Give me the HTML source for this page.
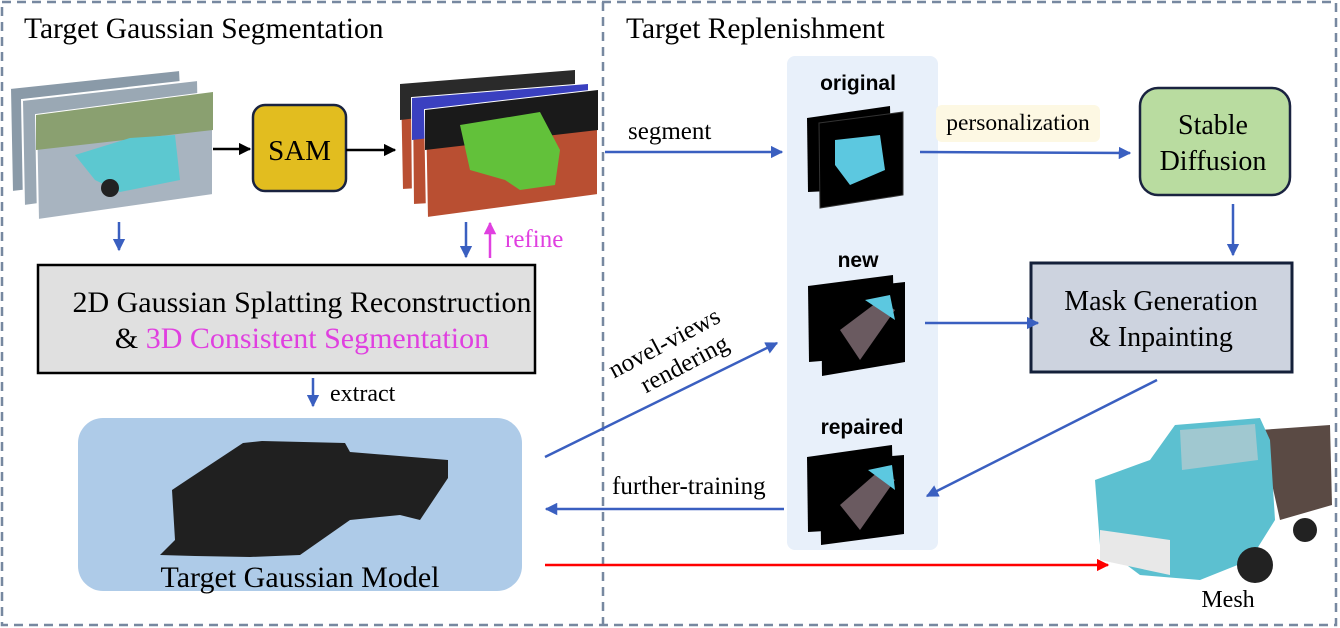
<!DOCTYPE html>
<html><head><meta charset="utf-8"><style>
html,body{margin:0;padding:0;background:#fff}
svg{display:block}
.serif{font-family:"Liberation Serif","Times New Roman",serif}
.sans{font-family:"Liberation Sans",sans-serif;font-weight:bold}
</style></head><body>
<svg width="1340" height="628" viewBox="0 0 1340 628" xmlns="http://www.w3.org/2000/svg">
<defs>
<marker id="ab" viewBox="0 0 10 10" refX="9" refY="5" markerWidth="5" markerHeight="5" orient="auto"><path d="M0,0L10,5L0,10z" fill="#3a5fc0"/></marker>
<marker id="ak" viewBox="0 0 10 10" refX="9" refY="5" markerWidth="5" markerHeight="5" orient="auto"><path d="M0,0L10,5L0,10z" fill="#000"/></marker>
<marker id="am" viewBox="0 0 10 10" refX="9" refY="5" markerWidth="5" markerHeight="5" orient="auto"><path d="M0,0L10,5L0,10z" fill="#e040e0"/></marker>
<marker id="ar" viewBox="0 0 10 10" refX="9" refY="5" markerWidth="5" markerHeight="5" orient="auto"><path d="M0,0L10,5L0,10z" fill="#f00"/></marker>
</defs>
<rect x="2" y="2" width="1334" height="623" fill="none" stroke="#7788a0" stroke-width="2.5" stroke-dasharray="9,6"/>
<line x1="603" y1="2" x2="603" y2="626" stroke="#7788a0" stroke-width="2.5" stroke-dasharray="9,6"/>
<text class="serif" x="24" y="38" font-size="29.5">Target Gaussian Segmentation</text>
<text class="serif" x="626" y="38" font-size="29.5">Target Replenishment</text>

<g>
<polygon points="10,88 180,70 185,172 12,192" fill="#8a9aa8" stroke="#fff" stroke-width="2"/>
<polygon points="22,100 198,80 200,182 24,206" fill="#9aa8b4" stroke="#fff" stroke-width="2"/>
<polygon points="36,115 213,92 213,195 38,220" fill="#a8b4c0" stroke="#fff" stroke-width="2"/>
<polygon points="36,115 213,92 213,130 36,150" fill="#8aa070"/>
<polygon points="75,155 130,138 175,135 180,180 120,192 95,180" fill="#5cc8d0"/>
<circle cx="110" cy="188" r="9" fill="#222"/>
</g>
<rect x="253" y="105" width="93" height="86" rx="12" fill="#e2bd1f" stroke="#1a2340" stroke-width="2.5"/>
<text class="serif" x="299.5" y="160" font-size="29" text-anchor="middle">SAM</text>
<line x1="213" y1="149" x2="250" y2="149" stroke="#000" stroke-width="2.5" marker-end="url(#ak)"/>
<line x1="346" y1="150" x2="395" y2="150" stroke="#000" stroke-width="2.5" marker-end="url(#ak)"/>

<g>
<polygon points="400,84 575,70 578,180 402,190" fill="#b94f32" stroke="#fff" stroke-width="2"/>
<polygon points="400,84 575,70 575,100 400,120" fill="#2a2a2a"/>
<polygon points="412,98 588,84 590,195 413,205" fill="#b94f32" stroke="#fff" stroke-width="2"/>
<polygon points="412,98 588,84 588,120 412,140" fill="#3a40c0"/>
<polygon points="425,110 598,90 598,195 427,218" fill="#b94f32" stroke="#fff" stroke-width="2"/>
<polygon points="425,110 598,90 598,130 425,150" fill="#1a1a1a"/>
<path d="M460,125 L540,112 L560,150 L555,185 L520,190 L505,180 L470,170 Z" fill="#62c13a"/>
</g>
<line x1="119" y1="222" x2="119" y2="250" stroke="#3a5fc0" stroke-width="2.5" marker-end="url(#ab)"/>
<line x1="466" y1="222" x2="466" y2="257" stroke="#3a5fc0" stroke-width="2.5" marker-end="url(#ab)"/>
<line x1="490" y1="258" x2="490" y2="223" stroke="#e040e0" stroke-width="2.5" marker-end="url(#am)"/>
<text class="serif" x="505" y="247" font-size="25" fill="#e040e0">refine</text>

<rect x="38" y="265" width="497" height="108" fill="#e0e0e0" stroke="#000" stroke-width="2.5"/>
<text class="serif" x="302" y="312" font-size="30" text-anchor="middle">2D Gaussian Splatting Reconstruction</text>
<text class="serif" x="302" y="348" font-size="30" text-anchor="middle">&amp; <tspan fill="#e040e0">3D Consistent Segmentation</tspan></text>
<line x1="313" y1="378" x2="313" y2="406" stroke="#3a5fc0" stroke-width="2.5" marker-end="url(#ab)"/>
<text class="serif" x="330" y="401" font-size="24">extract</text>

<rect x="78" y="418" width="444" height="173" rx="25" fill="#aecbe8"/>
<path d="M172,490 L190,478 L243,443 L262,441 L345,443 L350,452 L448,460 L448,478 L420,520 L400,515 L350,520 L300,555 L250,557 L195,556 L160,555 L175,540 Z" fill="#202020"/>
<text class="serif" x="300" y="587" font-size="30" text-anchor="middle">Target Gaussian Model</text>

<text class="serif" x="628" y="139" font-size="25">segment</text>
<line x1="605" y1="152" x2="782" y2="152" stroke="#3a5fc0" stroke-width="2.5" marker-end="url(#ab)"/>
<line x1="545" y1="457" x2="777" y2="343" stroke="#3a5fc0" stroke-width="2.5" marker-end="url(#ab)"/>
<text class="serif" font-size="25" text-anchor="middle" transform="translate(668,350) rotate(-28)"><tspan x="0" y="0">novel-views</tspan><tspan x="8" y="28">rendering</tspan></text>
<text class="serif" x="612" y="494" font-size="25">further-training</text>
<line x1="784" y1="509" x2="546" y2="509" stroke="#3a5fc0" stroke-width="2.5" marker-end="url(#ab)"/>
<line x1="545" y1="565" x2="1108" y2="565" stroke="#f00" stroke-width="2.5" marker-end="url(#ar)"/>

<rect x="787" y="56" width="151" height="494" rx="8" fill="#e8f0fa"/>
<text class="sans" x="858" y="90" font-size="21" text-anchor="middle">original</text>
<text class="sans" x="858" y="267" font-size="21" text-anchor="middle">new</text>
<text class="sans" x="862" y="434" font-size="21" text-anchor="middle">repaired</text>
<g>
<polygon points="807,118 890,106 892,188 808,192" fill="#000"/>
<polygon points="819,123 903,112 903,195 820,208" fill="#000" stroke="#333"/>
<path d="M835,140 L880,135 L885,170 L850,185 L835,165 Z" fill="#5cc8e0"/>
</g>
<g>
<polygon points="808,286 893,275 895,355 809,362" fill="#000"/>
<polygon points="821,291 905,282 905,362 822,376" fill="#000"/>
<path d="M840,330 L880,300 L895,310 L860,360 Z" fill="#6a5a60"/>
<path d="M865,300 L890,295 L895,320 Z" fill="#5cc8e0"/>
</g>
<g>
<polygon points="807,457 892,445 894,527 808,532" fill="#000"/>
<polygon points="820,462 904,455 904,534 821,545" fill="#000"/>
<path d="M840,505 L880,470 L895,480 L860,530 Z" fill="#6a5a60"/>
<path d="M868,470 L892,465 L895,490 Z" fill="#5cc8e0"/>
</g>

<rect x="936" y="105" width="164" height="37" rx="6" fill="#fdf8e3"/>
<text class="serif" x="1018" y="130" font-size="23.5" text-anchor="middle">personalization</text>
<line x1="920" y1="152" x2="1130" y2="153" stroke="#3a5fc0" stroke-width="2.5" marker-end="url(#ab)"/>
<rect x="1140" y="88" width="150" height="107" rx="18" fill="#b9dca0" stroke="#1a2340" stroke-width="2.5"/>
<text class="serif" x="1213" y="134" font-size="28" text-anchor="middle">Stable</text>
<text class="serif" x="1213" y="170" font-size="28" text-anchor="middle">Diffusion</text>
<line x1="1233" y1="204" x2="1233" y2="255" stroke="#3a5fc0" stroke-width="2.5" marker-end="url(#ab)"/>
<rect x="1031" y="263" width="261" height="109" fill="#cdd3df" stroke="#14203a" stroke-width="3"/>
<text class="serif" x="1161" y="310" font-size="28" text-anchor="middle">Mask Generation</text>
<text class="serif" x="1161" y="346" font-size="28" text-anchor="middle">&amp; Inpainting</text>
<line x1="925" y1="323" x2="1038" y2="323" stroke="#3a5fc0" stroke-width="2.5" marker-end="url(#ab)"/>
<line x1="1157" y1="380" x2="927" y2="496" stroke="#3a5fc0" stroke-width="2.5" marker-end="url(#ab)"/>

<g>
<path d="M1260,430 L1330,425 L1332,505 L1280,520 Z" fill="#5a4a44"/>
<path d="M1175,425 L1260,418 L1270,440 L1275,520 L1250,560 L1200,580 L1140,575 L1100,545 L1095,480 L1150,460 Z" fill="#5cc0d0"/>
<path d="M1180,430 L1255,424 L1258,460 L1182,470 Z" fill="#a0c8d0"/>
<path d="M1100,530 L1170,540 L1170,575 L1100,560 Z" fill="#e8e8e8"/>
<circle cx="1255" cy="565" r="18" fill="#222"/>
<circle cx="1305" cy="530" r="12" fill="#222"/>
</g>
<text class="serif" x="1228" y="607" font-size="24" text-anchor="middle">Mesh</text>
</svg>
</body></html>
